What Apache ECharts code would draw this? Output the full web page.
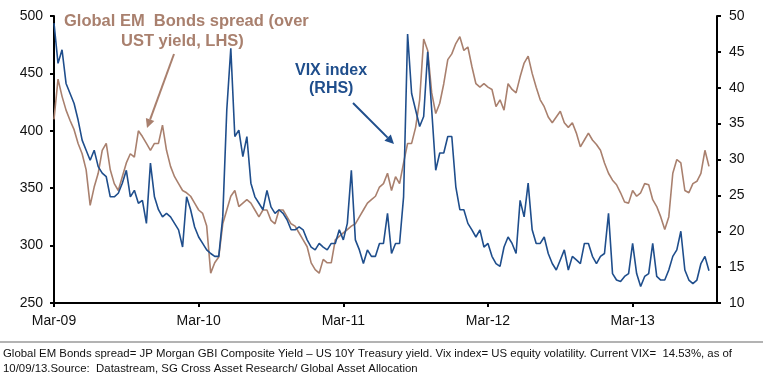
<!DOCTYPE html>
<html><head><meta charset="utf-8">
<script src="https://cdn.jsdelivr.net/npm/echarts@6/dist/echarts.min.js"></script>
<style>html,body{margin:0;padding:0;background:#fff}#c{width:763px;height:381px}</style>
</head><body><div id="c"></div>
<script>
// Time steps: three points per month, starting Mar-2009
const startYear = 2009, startMonth = 3, stepsPerMonth = 3, nCats = 166;
const tickLabels = ['Mar-09', 'Mar-10', 'Mar-11', 'Mar-12', 'Mar-13'];
const tickEvery = 36;

// Global EM bonds spread over UST yield (LHS, bp)
const emSpread = [
 410,445,430,418,409,401,389,380,366,335,351,363,383,389,366,354,348,360,372,380,377,400,395,389,383,389,389,405,
 383,369,360,354,348,346,343,337,331,328,317,276,285,290,319,331,343,348,334,337,340,337,331,325,331,331,322,
 319,331,331,325,319,317,311,305,299,285,279,276,288,285,285,305,308,311,314,317,319,325,331,337,340,343,351,
 354,363,348,360,354,372,389,389,403,427,480,470,433,415,424,441,462,467,476,482,470,473,456,441,438,441,438,436,
 421,427,418,441,436,433,447,459,465,450,438,427,421,412,407,412,417,407,403,407,398,386,392,398,392,388,383,
 372,363,357,353,346,338,337,348,343,346,354,353,340,334,325,314,325,363,375,372,348,346,354,356,363,383,369
];
// VIX index (RHS)
const vix = [
 49,43.4,45.3,40.6,39.2,37.8,35.5,32.7,31.3,29.9,31.3,29.0,28.1,27.6,24.8,24.8,25.3,26.7,28.5,24.8,25.7,23.9,24.3,21.1,29.5,24.8,23.0,22.0,
 22.5,22.0,21.1,20.2,17.8,24.8,23.0,20.6,19.2,18.3,17.4,16.9,16.5,16.5,22.0,36.9,45.5,33.2,34.1,30.4,33.2,26.7,24.8,23.9,23.0,25.7,23.4,
 22.5,23.0,22.5,21.6,20.2,20.2,20.6,20.2,18.8,17.8,17.4,18.3,17.8,17.4,18.3,18.3,20.2,18.8,21.1,28.5,18.8,17.4,15.5,17.4,16.5,16.5,18.3,
 18.3,22.5,16.9,18.3,18.3,24.8,47.5,39.2,36.9,34.6,36.0,45.0,36.9,28.5,30.9,30.9,33.2,33.2,26.2,23.0,23.0,21.1,20.2,19.2,20.2,17.8,18.3,16.5,
 15.5,15.1,17.8,19.2,18.3,16.9,24.3,22.0,26.7,20.2,18.3,18.3,19.2,16.9,15.5,14.6,16.0,17.4,14.6,16.5,16.0,15.5,18.3,18.3,16.5,15.5,16.5,
 16.9,22.5,14.1,13.2,13.0,13.7,14.1,18.3,14.1,12.3,13.7,14.1,18.3,13.7,13.2,13.2,14.6,16.5,17.4,20.0,14.6,13.2,12.7,13.2,15.5,16.5,14.5
];

const categories = [];
for (let i = 0; i < nCats; i++) {
  const m = startMonth - 1 + Math.floor(i / stepsPerMonth);
  const y = startYear + Math.floor(m / 12);
  const mm = (m % 12) + 1;
  categories.push(y + '-' + String(mm).padStart(2, '0') + '-p' + (i % stepsPerMonth + 1));
}

const FONT = 'Liberation Sans, Arial, sans-serif';
const BROWN = '#a9806e';
const BLUE = '#1f4e8c';
const chart = echarts.init(document.getElementById('c'), null, {renderer: 'canvas'});

function arrow(x1, y1, x2, y2, color) {
  const ang = Math.atan2(y2 - y1, x2 - x1);
  const L = 9, W = 4.5;
  const bx = x2 - L * Math.cos(ang), by = y2 - L * Math.sin(ang);
  const px = -Math.sin(ang) * W, py = Math.cos(ang) * W;
  return [
    {type: 'line', shape: {x1: x1, y1: y1, x2: bx, y2: by}, style: {stroke: color, lineWidth: 2}, z: 100},
    {type: 'polygon', shape: {points: [[x2, y2], [bx + px, by + py], [bx - px, by - py]]}, style: {fill: color}, z: 100}
  ];
}

chart.setOption({
  animation: false,
  backgroundColor: '#fff',
  grid: {left: 54, right: 46, top: 16, bottom: 78, containLabel: false},
  xAxis: {
    type: 'category', data: categories, boundaryGap: false,
    axisLine: {lineStyle: {color: '#000', width: 2}},
    axisTick: {show: true, length: 4, lineStyle: {color: '#000', width: 2},
      interval: function (idx) { return idx % tickEvery === 0; }},
    axisLabel: {
      interval: function (idx) { return idx % tickEvery === 0 && idx / tickEvery < tickLabels.length; },
      formatter: function (v, idx) { return tickLabels[idx / tickEvery] || ''; },
      color: '#111', fontSize: 14, fontFamily: FONT, margin: 11
    },
    splitLine: {show: false}
  },
  yAxis: [
    {type: 'value', min: 250, max: 500, interval: 50, position: 'left',
     axisLine: {show: true, lineStyle: {color: '#000', width: 2}},
     axisTick: {show: true, length: 4, lineStyle: {color: '#000', width: 2}},
     axisLabel: {color: '#111', fontSize: 14, fontFamily: FONT, margin: 11},
     splitLine: {show: false}},
    {type: 'value', min: 10, max: 50, interval: 5, position: 'right',
     axisLine: {show: true, lineStyle: {color: '#000', width: 2}},
     axisTick: {show: true, length: 4, lineStyle: {color: '#000', width: 2}},
     axisLabel: {color: '#111', fontSize: 14, fontFamily: FONT, margin: 12},
     splitLine: {show: false}}
  ],
  series: [
    {name: 'Global EM Bonds spread', type: 'line', yAxisIndex: 0, data: emSpread,
     symbol: 'none', lineStyle: {color: BROWN, width: 1.6}, z: 2},
    {name: 'VIX index', type: 'line', yAxisIndex: 1, data: vix,
     symbol: 'none', lineStyle: {color: BLUE, width: 1.6}, z: 3}
  ],
  graphic: [
    {type: 'text', left: 64, top: 13, style: {text: 'Global EM  Bonds spread (over', fill: BROWN, font: 'bold 16.5px ' + FONT}, z: 100},
    {type: 'text', left: 121, top: 33, style: {text: 'UST yield, LHS)', fill: BROWN, font: 'bold 16.5px ' + FONT}, z: 100},
    {type: 'text', left: 295, top: 63, style: {text: 'VIX index', fill: BLUE, font: 'bold 16px ' + FONT}, z: 100},
    {type: 'text', left: 309, top: 81, style: {text: '(RHS)', fill: BLUE, font: 'bold 16px ' + FONT}, z: 100},
    ...arrow(174, 54, 147, 128, BROWN),
    ...arrow(353, 103, 394, 144, BLUE),
    {type: 'line', shape: {x1: 0, y1: 342, x2: 763, y2: 342}, style: {stroke: '#9a9a9a', lineWidth: 1.5}, z: 100},
    {type: 'text', left: 3, top: 348, style: {text: 'Global EM Bonds spread= JP Morgan GBI Composite Yield \u2013 US 10Y Treasury yield. Vix index= US equity volatility. Current VIX=  14.53%, as of', fill: '#111', font: '11.4px ' + FONT}, z: 100},
    {type: 'text', left: 3, top: 363, style: {text: '10/09/13.Source:  Datastream, SG Cross Asset Research/ Global Asset Allocation', fill: '#111', font: '11.4px ' + FONT}, z: 100}
  ]
});
</script></body></html>
